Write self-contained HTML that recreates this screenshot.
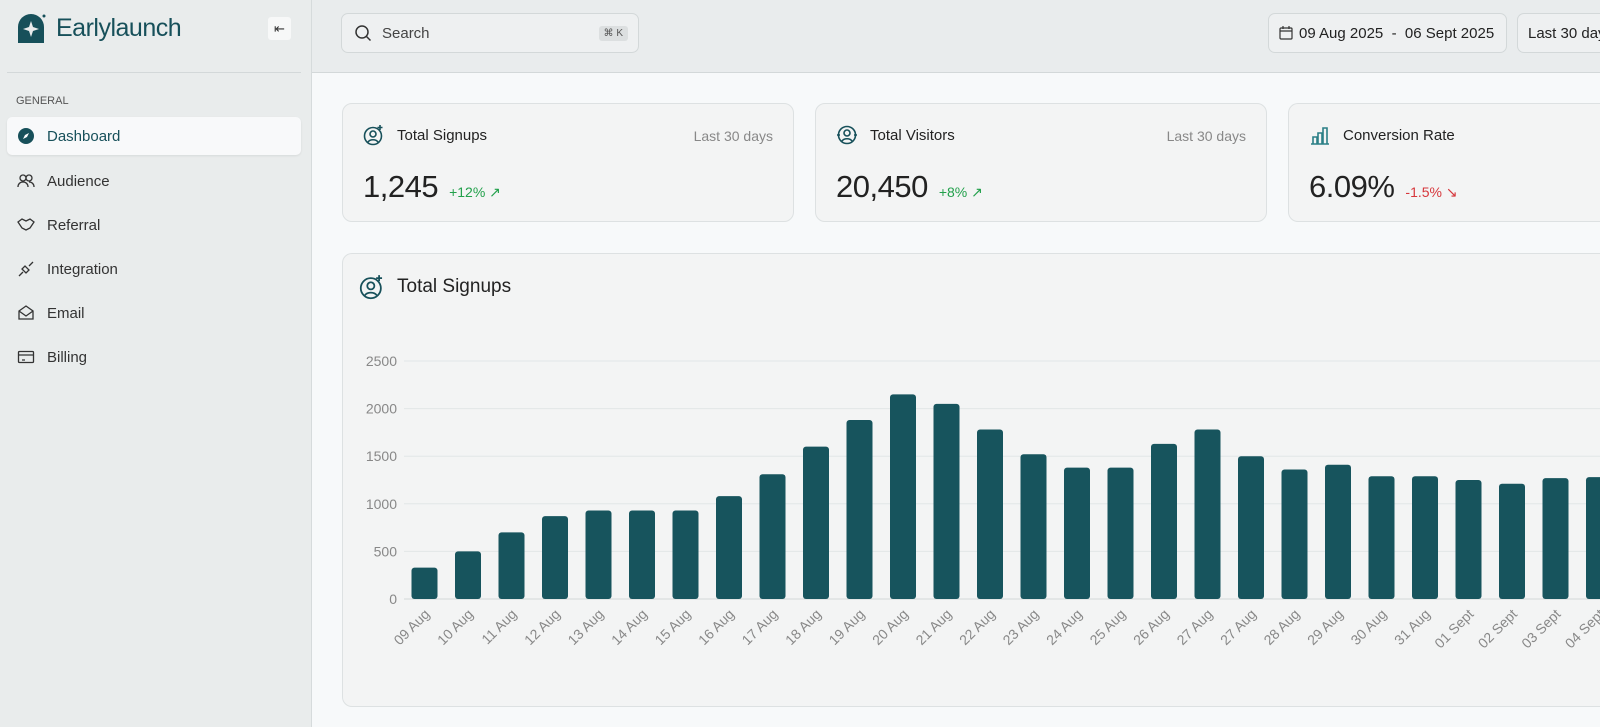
<!DOCTYPE html>
<html><head><meta charset="utf-8"><style>
*{box-sizing:border-box;margin:0;padding:0}
body{width:1600px;height:727px;overflow:hidden;font-family:"Liberation Sans",sans-serif;background:#f7f9fa;position:relative;color:#222}
.side{position:absolute;left:0;top:0;width:312px;height:727px;background:#e9ecec;border-right:1px solid #d6dbdc}
.logo{position:absolute;left:16px;top:13px;display:flex;align-items:center;gap:9px;font-size:25px;color:#17505a;letter-spacing:-0.5px}
.collapse{position:absolute;left:268px;top:17px;width:23px;height:23px;background:#f7f8f8;border-radius:3px;font-size:13px;text-align:center;line-height:23px;color:#333}
.sdiv{position:absolute;left:7px;right:10px;top:72px;border-top:1px solid #d3d8d9}
.gen{position:absolute;left:16px;top:95px;font-size:11px;color:#555}
.nav{position:absolute;left:7px;width:294px;height:38px;display:flex;align-items:center;padding-left:10px;gap:12px;font-size:15px;color:#333}
.nav.act{background:#f8f9fa;border-radius:5px;box-shadow:0 1px 2px rgba(0,0,0,.08);color:#17505a}
.nav svg{width:18px;height:18px}
.hdr{position:absolute;left:312px;top:0;width:1288px;height:73px;background:#e9eced;border-bottom:1px solid #d3d8d9;overflow:hidden}
.search{position:absolute;left:29px;top:13px;width:298px;height:40px;border:1px solid #d3d8d9;border-radius:7px;background:#eef0f1;display:flex;align-items:center;padding-left:12px;gap:10px;font-size:15px;color:#444}
.kbd{position:absolute;right:10px;top:12px;background:#dcdfe0;font-size:10px;padding:2px 5px;border-radius:3px;color:#555}
.btn{position:absolute;top:13px;height:40px;border:1px solid #d3d8d9;border-radius:7px;background:#eef0f1;font-size:15px;color:#222;display:flex;align-items:center;padding-left:10px;gap:6px;white-space:nowrap;overflow:hidden}
.card{position:absolute;top:103px;width:452px;height:119px;border:1px solid #dde1e2;border-radius:10px;background:#f3f4f4}
.ct{position:absolute;left:20px;top:20px;display:flex;align-items:center;gap:12px;font-size:15px;color:#222}
.cl{position:absolute;right:20px;top:24px;font-size:14px;color:#888}
.cv{position:absolute;left:20px;top:65px;font-size:31px;color:#222;letter-spacing:-0.5px;display:flex;align-items:baseline;gap:11px}
.cv span{font-size:14px;letter-spacing:0}
.chart{position:absolute;left:342px;top:253px;width:1258px;height:454px;border:1px solid #dde1e2;border-right:none;border-radius:10px 0 0 10px;background:#f3f4f4}
</style></head><body>
<div class="side">
 <div class="logo">
  <svg width="31" height="31" viewBox="0 0 31 31"><path d="M2 30V14a13 13 0 0 1 26 0v16z" fill="#17505a"/><path d="M15 8l2 6 6 2-6 2-2 6-2-6-6-2 6-2z" fill="#e9ecec"/><circle cx="28" cy="3" r="1.5" fill="#17505a"/></svg>
  <span>Earlylaunch</span></div>
 <div class="collapse">⇤</div>
 <div class="sdiv"></div>
 <div class="gen">GENERAL</div>
 <div class="nav act" style="top:117px"><svg viewBox="0 0 18 18"><circle cx="9" cy="9" r="8" fill="#17505a"/><path d="M12 6l-2 4-4 2 2-4z" fill="#fff"/></svg>Dashboard</div>
 <div class="nav" style="top:162px"><svg viewBox="0 0 18 18" fill="none" stroke="#333" stroke-width="1.3"><circle cx="6" cy="6" r="3"/><circle cx="12" cy="6" r="3"/><path d="M1 15c0-3 2-5 5-5s5 2 5 5M12 10c3 0 5 2 5 5"/></svg>Audience</div>
 <div class="nav" style="top:206px"><svg viewBox="0 0 18 18" fill="none" stroke="#333" stroke-width="1.3"><path d="M1 6l4-3 4 2 4-2 4 3-4 6-4 2-4-2z"/></svg>Referral</div>
 <div class="nav" style="top:250px"><svg viewBox="0 0 18 18" fill="none" stroke="#333" stroke-width="1.3"><path d="M2 16l4-4M16 2l-4 4M5 9l4 4 3-3-4-4z"/></svg>Integration</div>
 <div class="nav" style="top:294px"><svg viewBox="0 0 18 18" fill="none" stroke="#333" stroke-width="1.3"><path d="M2 7l7-5 7 5v8H2zM2 7l7 5 7-5"/></svg>Email</div>
 <div class="nav" style="top:338px"><svg viewBox="0 0 18 18" fill="none" stroke="#333" stroke-width="1.3"><rect x="1.5" y="3.5" width="15" height="11" rx="1"/><path d="M1.5 7h15M5 12h3"/></svg>Billing</div>
</div>
<div class="hdr">
 <div class="search"><svg width="18" height="18" viewBox="0 0 18 18" fill="none" stroke="#333" stroke-width="1.5"><circle cx="8" cy="8" r="6"/><path d="M12.5 12.5l4 4"/></svg>Search<span class="kbd">⌘ K</span></div>
 <div class="btn" style="left:956px;width:239px"><svg width="14" height="14" viewBox="0 0 14 14" fill="none" stroke="#333" stroke-width="1.2"><rect x="1" y="2" width="12" height="11" rx="1"/><path d="M1 5h12M4 0v3M10 0v3"/></svg>09 Aug 2025 &nbsp;-&nbsp; 06 Sept 2025</div>
 <div class="btn" style="left:1205px;width:83px;border-right:none;border-radius:7px 0 0 7px">Last 30 days</div>
</div>
<div class="card" style="left:342px">
 <div class="ct"><svg width="22" height="22" viewBox="0 0 22 22" fill="none" stroke="#17505a" stroke-width="1.6"><circle cx="10" cy="12" r="8.5"/><circle cx="10" cy="10" r="3"/><path d="M5 18c2-3 8-3 10 0M17 1v5M14.5 3.5h5"/></svg>Total Signups</div>
 <div class="cl">Last 30 days</div>
 <div class="cv">1,245<span style="color:#22a04b">+12% ↗</span></div></div>
<div class="card" style="left:815px">
 <div class="ct"><svg width="22" height="22" viewBox="0 0 22 22" fill="none" stroke="#17505a" stroke-width="1.6"><circle cx="11" cy="11" r="8.5"/><circle cx="11" cy="9" r="3"/><path d="M6 17c2-3 8-3 10 0M1 11h3M18 11h3"/></svg>Total Visitors</div>
 <div class="cl">Last 30 days</div>
 <div class="cv">20,450<span style="color:#22a04b">+8% ↗</span></div></div>
<div class="card" style="left:1288px;width:312px;border-right:none;border-radius:10px 0 0 10px">
 <div class="ct"><svg width="22" height="22" viewBox="0 0 22 22" fill="none" stroke="#2b7f86" stroke-width="1.6"><path d="M2 20h18M4 20v-7h4v7M9 20V9h4v11M14 20V4h4v16"/></svg>Conversion Rate</div>
 <div class="cv">6.09%<span style="color:#d6363b">-1.5% ↘</span></div></div>
<div class="chart">
 <div class="ct" style="top:20px;left:16px;font-size:19px"><svg width="26" height="26" viewBox="0 0 22 22" fill="none" stroke="#17505a" stroke-width="1.5"><circle cx="10" cy="12" r="8.5"/><circle cx="10" cy="10" r="3"/><path d="M5 18c2-3 8-3 10 0M17 1v5M14.5 3.5h5"/></svg><span>Total Signups</span></div>
</div>
<svg id="cs" width="1600" height="727" style="position:absolute;left:0;top:0"></svg>
<script>
const categories=["09 Aug","10 Aug","11 Aug","12 Aug","13 Aug","14 Aug","15 Aug","16 Aug","17 Aug","18 Aug","19 Aug","20 Aug","21 Aug","22 Aug","23 Aug","24 Aug","25 Aug","26 Aug","27 Aug","27 Aug","28 Aug","29 Aug","30 Aug","31 Aug","01 Sept","02 Sept","03 Sept","04 Sept"];
const signups=[330,500,700,870,930,930,930,1080,1310,1600,1880,2150,2050,1780,1520,1380,1380,1630,1780,1500,1360,1410,1290,1290,1250,1210,1270,1280];
const yTicks=[0,500,1000,1500,2000,2500];
const ns="http://www.w3.org/2000/svg",svg=document.getElementById('cs');
const y0=599,yTop=361,yMax=2500,x0=424.5,step=43.5,bw=26;
const y=v=>y0-(v/yMax)*(y0-yTop);
const x=i=>x0+i*step;
svg.innerHTML='<defs><clipPath id="cp"><rect x="343" y="254" width="1257" height="452"/></clipPath></defs>';
const g=document.createElementNS(ns,'g');g.setAttribute('clip-path','url(#cp)');svg.appendChild(g);
function ad(t,a){const e=document.createElementNS(ns,t);for(const k in a)e.setAttribute(k,a[k]);g.appendChild(e);return e;}
yTicks.forEach(v=>{
 const l=ad('line',{x1:404,x2:1600,y1:y(v),y2:y(v),stroke:v?'#e2e6e7':'#d3d8d9','stroke-width':1});
 
 
 const t=ad('text',{x:397,y:y(v)+5,'text-anchor':'end','font-size':14,fill:'#888','font-family':'Liberation Sans'});
 t.textContent=v;
 
 
});
signups.forEach((v,i)=>{
 const r=ad('rect',{x:x(i)-bw/2,y:y(v),width:bw,height:y0-y(v),rx:3,fill:'#17545d'});
 
 
 const t=ad('text',{x:0,y:0,'text-anchor':'end','font-size':14,fill:'#888','font-family':'Liberation Sans',transform:`translate(${x(i)+6},${y0+16}) rotate(-45)`});
 t.textContent=categories[i];
 
 
});
</script>
</body></html>
